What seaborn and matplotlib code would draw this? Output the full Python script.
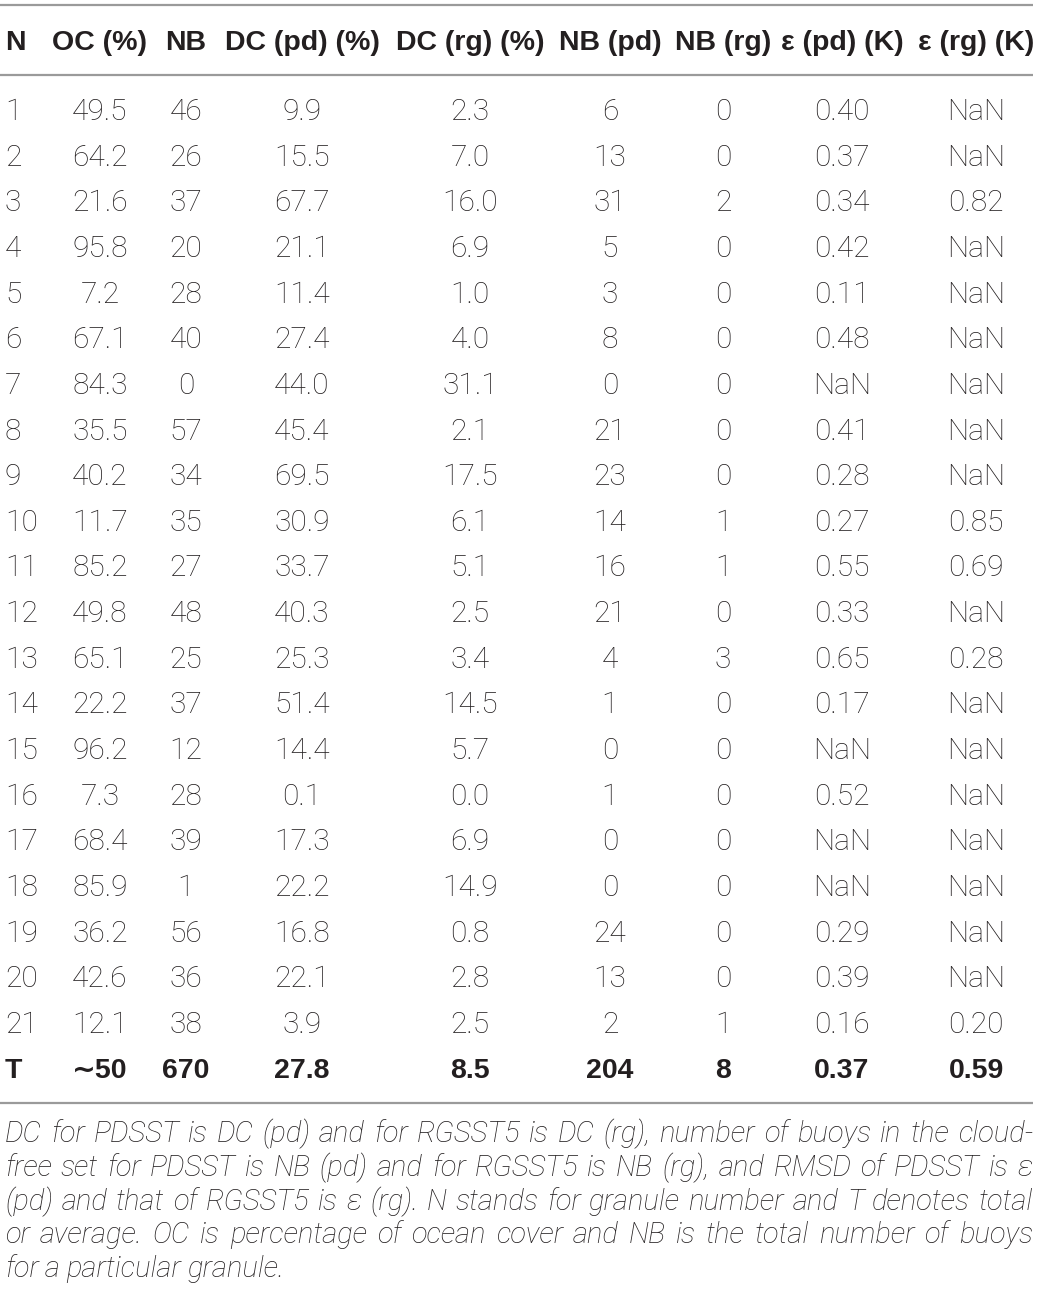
import matplotlib.pyplot as plt
import seaborn as sns

# Table columns
headers = ["N", "OC (%)", "NB", "DC (pd) (%)", "DC (rg) (%)",
           "NB (pd)", "NB (rg)", "\u03b5 (pd) (K)", "\u03b5 (rg) (K)"]
granule = [str(i) for i in range(1, 22)]
ocean_cover = ["49.5", "64.2", "21.6", "95.8", "7.2", "67.1", "84.3", "35.5", "40.2", "11.7",
               "85.2", "49.8", "65.1", "22.2", "96.2", "7.3", "68.4", "85.9", "36.2", "42.6", "12.1"]
num_buoys = ["46", "26", "37", "20", "28", "40", "0", "57", "34", "35",
             "27", "48", "25", "37", "12", "28", "39", "1", "56", "36", "38"]
dc_pd = ["9.9", "15.5", "67.7", "21.1", "11.4", "27.4", "44.0", "45.4", "69.5", "30.9",
         "33.7", "40.3", "25.3", "51.4", "14.4", "0.1", "17.3", "22.2", "16.8", "22.1", "3.9"]
dc_rg = ["2.3", "7.0", "16.0", "6.9", "1.0", "4.0", "31.1", "2.1", "17.5", "6.1",
         "5.1", "2.5", "3.4", "14.5", "5.7", "0.0", "6.9", "14.9", "0.8", "2.8", "2.5"]
nb_pd = ["6", "13", "31", "5", "3", "8", "0", "21", "23", "14",
         "16", "21", "4", "1", "0", "1", "0", "0", "24", "13", "2"]
nb_rg = ["0", "0", "2", "0", "0", "0", "0", "0", "0", "1",
         "1", "0", "3", "0", "0", "0", "0", "0", "0", "0", "1"]
eps_pd = ["0.40", "0.37", "0.34", "0.42", "0.11", "0.48", "NaN", "0.41", "0.28", "0.27",
          "0.55", "0.33", "0.65", "0.17", "NaN", "0.52", "NaN", "NaN", "0.29", "0.39", "0.16"]
eps_rg = ["NaN", "NaN", "0.82", "NaN", "NaN", "NaN", "NaN", "NaN", "NaN", "0.85",
          "0.69", "NaN", "0.28", "NaN", "NaN", "NaN", "NaN", "NaN", "NaN", "NaN", "0.20"]
totals = ["T", "\u223c50", "670", "27.8", "8.5", "204", "8", "0.37", "0.59"]

caption_lines = [
    "DC for PDSST is DC (pd) and for RGSST5 is DC (rg), number of buoys in the cloud-",
    "free set for PDSST is NB (pd) and for RGSST5 is NB (rg), and RMSD of PDSST is \u03b5",
    "(pd) and that of RGSST5 is \u03b5 (rg). N stands for granule number and T denotes total",
    "or average. OC is percentage of ocean cover and NB is the total number of buoys",
    "for a particular granule.",
]

columns = [granule, ocean_cover, num_buoys, dc_pd, dc_rg, nb_pd, nb_rg, eps_pd, eps_rg]

# Layout (pixels)
W, H = 1039, 1301
col_x = [5, 100, 186, 302, 470, 610, 723, 842, 976]
col_ha = ["left"] + ["center"] * 8
header_y = 43
row_y0 = 112
row_step = 45.65
caption_left, caption_right = 5, 1033
rule_color = "#9a9a9a"
text_color = "#231f20"
bold_family = ["Liberation Sans", "DejaVu Sans"]


def justified_line(fig, ax, words, y, size, last=False):
    """Draw one caption line with words spread to the full width"""
    renderer = fig.canvas.get_renderer()
    inv = ax.transData.inverted()
    texts, widths = [], []
    for w in words:
        t = ax.text(0, y, w, ha="left", va="center", fontsize=size,
                    fontstyle="italic", fontweight="light", color=text_color)
        bb = t.get_window_extent(renderer)
        x0 = inv.transform((bb.x0, bb.y0))[0]
        x1 = inv.transform((bb.x1, bb.y0))[0]
        texts.append(t)
        widths.append(x1 - x0)
    space = size * 0.3
    if not last and len(words) > 1:
        space = (caption_right - caption_left - sum(widths)) / (len(words) - 1)
    x = caption_left
    for t, w in zip(texts, widths):
        t.set_x(x)
        x += w + space


def main() -> None:
    sns.set_theme(style="white")
    plt.rcParams["font.family"] = ["Roboto", "DejaVu Sans"]

    fig = plt.figure(figsize=(W / 100, H / 100), dpi=100)
    ax = fig.add_axes([0, 0, 1, 1])
    ax.set_xlim(0, W)
    ax.set_ylim(H, 0)
    ax.axis("off")

    # Rules
    for y in (5, 75, 1103):
        ax.plot([0, 1033], [y, y], color=rule_color, lw=1.6, solid_capstyle="butt")

    # Header
    for x, ha, label in zip(col_x, col_ha, headers):
        ax.text(x, header_y, label, ha=ha, va="center", fontsize=20.5,
                fontweight="bold", color=text_color, family=bold_family)

    # Body rows
    for i in range(len(granule)):
        y = row_y0 + i * row_step
        for x, ha, col in zip(col_x, col_ha, columns):
            ax.text(x, y, col[i], ha=ha, va="center", fontsize=21.5,
                    fontweight="light", color=text_color)

    # Totals row
    y = row_y0 + len(granule) * row_step
    for x, ha, label in zip(col_x, col_ha, totals):
        ax.text(x, y, label, ha=ha, va="center", fontsize=20.5,
                fontweight="bold", color=text_color, family=bold_family)

    # Caption, justified
    for j, line in enumerate(caption_lines):
        justified_line(fig, ax, line.split(" "), 1134 + j * 33.8, 21,
                       last=(j == len(caption_lines) - 1))

    plt.savefig("out.png", dpi=100)
    plt.close()


if __name__ == "__main__":
    main()
